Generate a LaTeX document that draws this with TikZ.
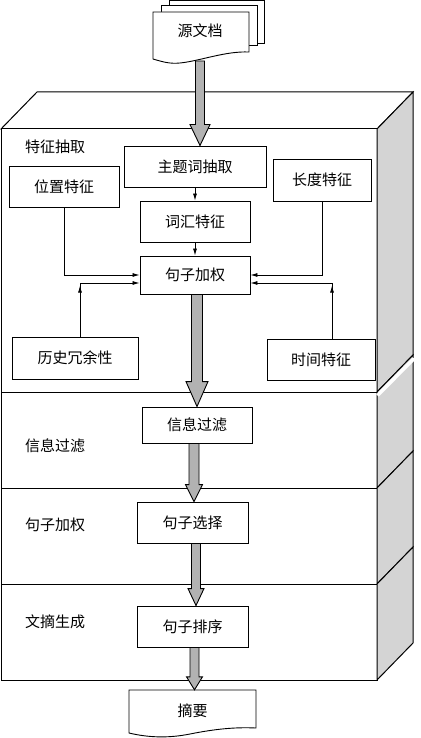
\documentclass[tikz,border=0pt]{standalone}
\usepackage{fontspec}
\newfontfamily\cjk{Noto Sans CJK SC}
\usetikzlibrary{arrows.meta,calc,decorations.markings}
\definecolor{arrgray}{gray}{0.70}
\definecolor{sidegray}{gray}{0.83}
\newcommand\fatarrow[6]{%
  \path let \p1=(#1), \p2=(#2) in [draw=black, fill=arrgray, line width=0.9pt, line join=miter]
    (\x1+#6pt-#3pt,\y1) -- (\x1+#6pt-#3pt,\y2+#5pt) -- (\x1+#6pt-#4pt,\y2+#5pt) -- (\x1+#6pt,\y2)
    -- (\x1+#6pt+#4pt,\y2+#5pt) -- (\x1+#6pt+#3pt,\y2+#5pt) -- (\x1+#6pt+#3pt,\y1) -- cycle;}
\begin{document}
\begin{tikzpicture}[x=1pt,y=-1pt,
  every node/.style={font=\cjk\fontsize{15pt}{18pt}\selectfont, inner sep=0pt},
  box/.style={draw, fill=white, line width=0.9pt},
  layer/.style={draw, line width=1pt, line join=miter},
  docline/.style={draw, line width=0.9pt},
  thinarr/.style={-{Latex[length=7pt,width=4pt]}, line width=0.8pt},
  midarr/.style={postaction={decorate}, decoration={markings, mark=at position #1 with {\arrow{Latex[length=7pt,width=4pt]}}}}]
\useasboundingbox (0,0) rectangle (420,738);
% ---- layers ----
\draw[layer, fill=white] (1,129) -- (37,92) -- (413,92) -- (377,129) -- cycle;
\foreach \t/\b in {129/392, 392/488, 488/584, 584/680}{
  \draw[layer, fill=white] (1,\t) rectangle (377,\b);
  \draw[layer, fill=sidegray] (377,\t) -- (413,\t-37) -- (413,\b-37) -- (377,\b) -- cycle;
}
\draw[white, line width=3.5pt] (377.5,395.5) -- (414,358.5);
% ---- layer labels ----
\node (lab1) at (55,147) {特征抽取};
\node (lab2) at (55,446) {信息过滤};
\node (lab3) at (55,525) {句子加权};
\node (lab4) at (55,622) {文摘生成};
% ---- source documents ----
\draw[docline, fill=white] (169,0.7) rectangle (264,43);
\draw[docline, fill=white] (161,5.5) rectangle (257,45.5);
\draw[docline, fill=white] (153,12) -- (249,12) -- (249,52)
  .. controls (225,51) and (200,61) .. (180,63)
  .. controls (170,64) and (163,62) .. (153,59) -- cycle;
\node (doc) at (200,31) {源文档};
\coordinate (docb) at (200,61);
% ---- summary document ----
\draw[docline, fill=white] (129,690) -- (256,690) -- (256,728)
  .. controls (235,727) and (215,729) .. (190,734)
  .. controls (170,738) and (150,738) .. (129,733) -- cycle;
\node[minimum width=127pt, minimum height=42pt] (zy) at (192.5,711) {摘要};
% ---- boxes ----
\node[box, minimum width=142pt, minimum height=41pt] (zt) at (195,166.5) {主题词抽取};
\node[box, minimum width=110pt, minimum height=41pt] (wz) at (64,186.5) {位置特征};
\node[box, minimum width=98pt, minimum height=42pt] (cd) at (322,180) {长度特征};
\node[box, minimum width=110pt, minimum height=41pt] (ch) at (195,221.5) {词汇特征};
\node[box, minimum width=110pt, minimum height=38pt] (jz) at (195,275) {句子加权};
\node[box, minimum width=126pt, minimum height=42pt] (ls) at (75,358) {历史冗余性};
\node[box, minimum width=108pt, minimum height=41pt] (sj) at (321,359.5) {时间特征};
\node[box, minimum width=110pt, minimum height=36pt] (xx) at (197,425) {信息过滤};
\node[box, minimum width=111pt, minimum height=41pt] (xz) at (192.5,522.5) {句子选择};
\node[box, minimum width=111pt, minimum height=41pt] (px) at (192.5,626.5) {句子排序};
% ---- thin connectors ----
\draw[thinarr] (zt) -- (ch);
\draw[thinarr] (ch) -- (jz);
\draw[thinarr] (wz.south) |- (jz.west);
\draw[thinarr] (cd.south) |- (jz.east);
\coordinate (lsc) at (80,283);
\coordinate (sjc) at (332,283);
\draw[thinarr, midarr=51pt] (ls.north -| lsc) -- (lsc) -- (jz.west |- lsc);
\draw[thinarr, midarr=53pt] (sj.north -| sjc) -- (sjc) -- (jz.east |- sjc);
% ---- fat arrows ----
\fatarrow{docb}{zt.north}{4.5}{10}{21}{0}
\fatarrow{jz.south}{xx.north}{5.5}{11}{25}{2}
\fatarrow{xx.south}{xz.north}{5}{8.5}{17}{-3}
\fatarrow{xz.south}{px.north}{4.5}{8}{17}{3.5}
\fatarrow{px.south}{zy.north}{4.5}{8}{13}{2}
\end{tikzpicture}
\end{document}
